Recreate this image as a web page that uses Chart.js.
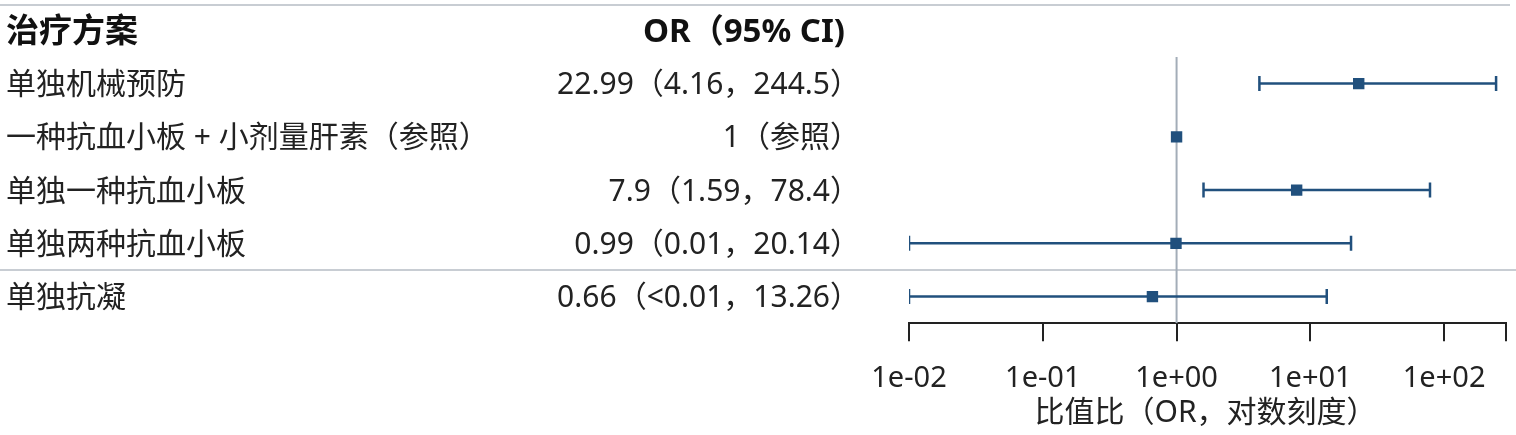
<!DOCTYPE html>
<html>
<head>
<meta charset="utf-8">
<script src="https://cdn.jsdelivr.net/npm/chart.js@4"></script>
<style>
  html, body { margin: 0; padding: 0; background: #fff; }
  #wrap { width: 1516px; height: 435px; }
</style>
</head>
<body>
<div id="wrap"><canvas id="forestChart"></canvas></div>
<script>
// data
const rowLabels = ['单独机械预防', '一种抗血小板 + 小剂量肝素（参照）', '单独一种抗血小板', '单独两种抗血小板', '单独抗凝'];
const orText = ['22.99（4.16，244.5）', '1（参照）', '7.9（1.59，78.4）', '0.99（0.01，20.14）', '0.66（<0.01，13.26）'];
const orValues = [22.99, 1, 7.9, 0.99, 0.66];
const ciLower = [4.16, null, 1.59, 0.01, 0.01];
const ciUpper = [244.5, null, 78.4, 20.14, 13.26];
const tickValues = [0.01, 0.1, 1, 10, 100];
const tickLabels = ['1e-02', '1e-01', '1e+00', '1e+01', '1e+02'];
const xMax = 290;
const axisTitle = '比值比（OR，对数刻度）';

const FONT = "'Noto Sans', 'Noto Sans CJK SC', sans-serif";
const blue = '#21507d';

const datasets = [];
// point estimates (first = drawn on top)
datasets.push({
    type: 'scatter',
    data: orValues.map((v, i) => ({x: v, y: i})),
    pointStyle: 'rect',
    pointRadius: 7,
    backgroundColor: blue,
    borderColor: blue,
    borderWidth: 1.5
});
// confidence intervals with caps
orValues.forEach((v, i) => {
    if (ciLower[i] == null) return;
    datasets.push({
        type: 'line',
        data: [{x: ciLower[i], y: i}, {x: ciUpper[i], y: i}],
        borderColor: blue,
        borderWidth: 2.5,
        pointStyle: 'line',
        pointRotation: 90,
        pointRadius: 7.5,
        pointBorderWidth: 2.5,
        pointBorderColor: blue
    });
});
// reference line at OR = 1
datasets.push({
    type: 'line',
    data: [{x: 1, y: -0.5}, {x: 1, y: rowLabels.length - 0.5}],
    borderColor: '#a3adb8',
    borderWidth: 2,
    pointRadius: 0
});

const tablePlugin = {
    id: 'tablePlugin',
    beforeDatasetsDraw(chart) {
        const ctx = chart.ctx
        const y = chart.scales.y
        ctx.save()
        ctx.strokeStyle = '#c8cdd3'
        ctx.lineWidth = 2
        ctx.beginPath()
        ctx.moveTo(0, 5)
        ctx.lineTo(1510, 5)
        const sep = y.getPixelForValue(3.5)
        ctx.moveTo(0, sep)
        ctx.lineTo(1516, sep)
        ctx.stroke()
        ctx.restore()
    },
    afterDraw(chart) {
        const ctx = chart.ctx
        const y = chart.scales.y
        const x = chart.scales.x
        ctx.save()
        ctx.textBaseline = 'middle'
        ctx.fillStyle = '#111'
        ctx.font = `bold 33px ${FONT}`
        const hy = y.getPixelForValue(-1) + 2
        ctx.textAlign = 'left'
        ctx.fillText('治疗方案', 6, hy)
        ctx.textAlign = 'right'
        ctx.fillText('OR（95% CI)', 845, hy)
        ctx.font = `30px ${FONT}`
        ctx.fillStyle = '#222'
        rowLabels.forEach((lab, i) => {
            const py = y.getPixelForValue(i) + 2
            ctx.textAlign = 'left'
            ctx.fillText(lab, 6, py)
            ctx.textAlign = 'right'
            ctx.fillText(orText[i], 860, py)
        })
        // axis title
        ctx.font = `30px ${FONT}`
        ctx.textAlign = 'center'
        ctx.fillText(axisTitle, (x.left + x.right) / 2 - 2, 413)
        ctx.restore()
    }
};

new Chart('forestChart', {
    data: {datasets: datasets},
    plugins: [tablePlugin],
    options: {
        responsive: true,
        maintainAspectRatio: false,
        animation: false,
        layout: {padding: {left: 909, right: 8, top: 57, bottom: 19}},
        plugins: {legend: {display: false}, tooltip: {enabled: false}},
        scales: {
            x: {
                type: 'logarithmic',
                position: 'bottom',
                min: 0.01,
                max: xMax,
                afterBuildTicks: (scale) => {
                    scale.ticks = tickValues.concat([xMax]).map(v => ({value: v}))
                },
                afterFit: (scale) => {
                    scale.paddingRight = 0
                    scale.paddingLeft = 0
                },
                ticks: {
                    autoSkip: false,
                    maxRotation: 0,
                    padding: 20,
                    color: '#222',
                    font: {family: FONT, size: 29},
                    callback: (v, i) => tickLabels[i] ?? ''
                },
                grid: {drawOnChartArea: false, drawTicks: true, tickLength: 18, color: '#222', lineWidth: 2},
                border: {display: true, color: '#222', width: 2}
            },
            y: {
                type: 'linear',
                min: -0.5,
                max: rowLabels.length - 0.5,
                reverse: true,
                display: false
            }
        }
    }
});
</script>
</body>
</html>
